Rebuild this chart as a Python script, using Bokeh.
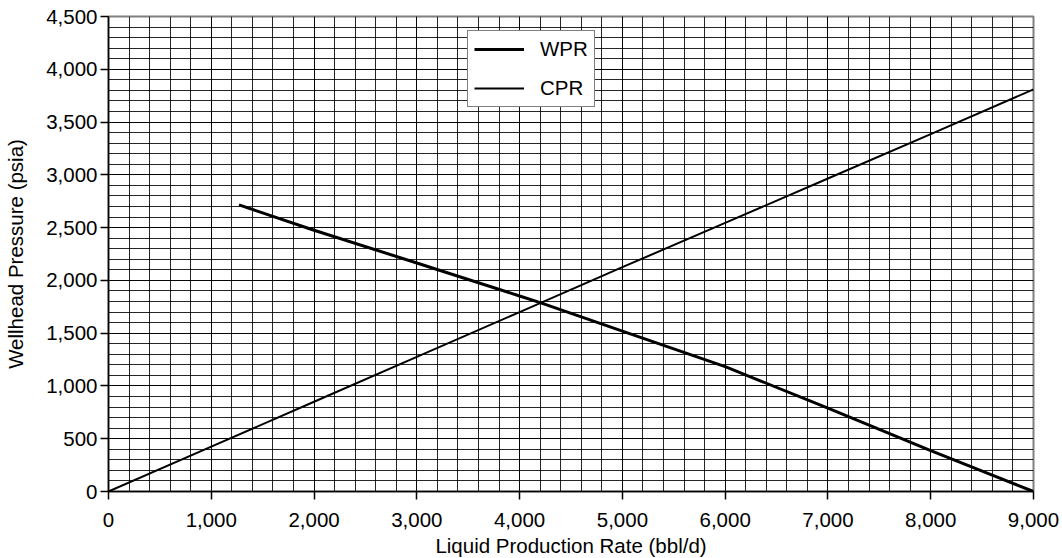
from bokeh.plotting import figure
from bokeh.embed import file_html
from bokeh.resources import INLINE
from bokeh.models import SingleIntervalTicker, NumeralTickFormatter, Legend, LegendItem, Range1d

# Data
wpr_rate = [1270, 2000, 3000, 4000, 4200, 5000, 6000, 7000, 8000, 9000]
wpr_pressure = [2715, 2475, 2165, 1852, 1790, 1520, 1183, 790, 388, 0]
cpr_rate = [0, 1000, 2000, 3000, 4000, 5000, 6000, 7000, 8000, 9000]
cpr_pressure = [0, 425, 850, 1275, 1700, 2125, 2545, 2965, 3385, 3810]

FONT = "Liberation Sans"
FS = "20.5px"

p = figure(frame_width=925, frame_height=475, output_backend="svg", toolbar_location=None,
           x_range=Range1d(0, 9000), y_range=Range1d(0, 4500),
           min_border_left=108, min_border_right=26, min_border_top=16, min_border_bottom=66)
p.background_fill_color = "white"
p.border_fill_color = "white"
p.outline_line_color = "#808080"
p.outline_line_width = 2

xt = SingleIntervalTicker(interval=1000, num_minor_ticks=5)
yt = SingleIntervalTicker(interval=500, num_minor_ticks=5)
p.xaxis.ticker = xt
p.yaxis.ticker = yt
p.xgrid.ticker = xt
p.ygrid.ticker = yt
for g in (p.xgrid, p.ygrid):
    g.grid_line_color = "black"
    g.grid_line_alpha = 0.85
    g.grid_line_width = 1
    g.minor_grid_line_color = "black"
    g.minor_grid_line_alpha = 0.85
    g.minor_grid_line_width = 1

for ax in (p.xaxis, p.yaxis):
    ax.formatter = NumeralTickFormatter(format="0,0")
    ax.axis_line_color = "black"
    ax.axis_line_width = 1.5
    ax.major_tick_line_color = "black"
    ax.major_tick_line_width = 1.5
    ax.major_tick_out = 8
    ax.major_tick_in = 0
    ax.minor_tick_out = 0
    ax.minor_tick_in = 0
    ax.major_label_text_font = FONT
    ax.major_label_text_font_size = FS
    ax.major_label_text_color = "black"
    ax.axis_label_text_font = FONT
    ax.axis_label_text_font_size = FS
    ax.axis_label_text_font_style = "normal"
    ax.axis_label_text_color = "black"

p.xaxis.axis_label = "Liquid Production Rate (bbl/d)"
p.yaxis.axis_label = "Wellhead Pressure (psia)"
p.xaxis.major_label_standoff = 13
p.xaxis.axis_label_standoff = 4
p.yaxis.major_label_standoff = 3
p.yaxis.axis_label_standoff = 16

r1 = p.line(wpr_rate, wpr_pressure, line_color="black", line_width=3)
r2 = p.line(cpr_rate, cpr_pressure, line_color="black", line_width=2)

legend = Legend(items=[LegendItem(label="WPR", renderers=[r1]),
                       LegendItem(label="CPR", renderers=[r2])],
                location=(359, 384), orientation="vertical")
legend.label_text_font = FONT
legend.label_text_font_size = FS
legend.label_text_color = "black"
legend.border_line_color = "black"
legend.border_line_width = 1
legend.background_fill_color = "white"
legend.background_fill_alpha = 1
legend.glyph_width = 50
legend.label_standoff = 16
legend.spacing = 15
legend.padding = 6
legend.margin = 0
p.add_layout(legend, "center")

open("out.html", "w").write(file_html(p, INLINE))
